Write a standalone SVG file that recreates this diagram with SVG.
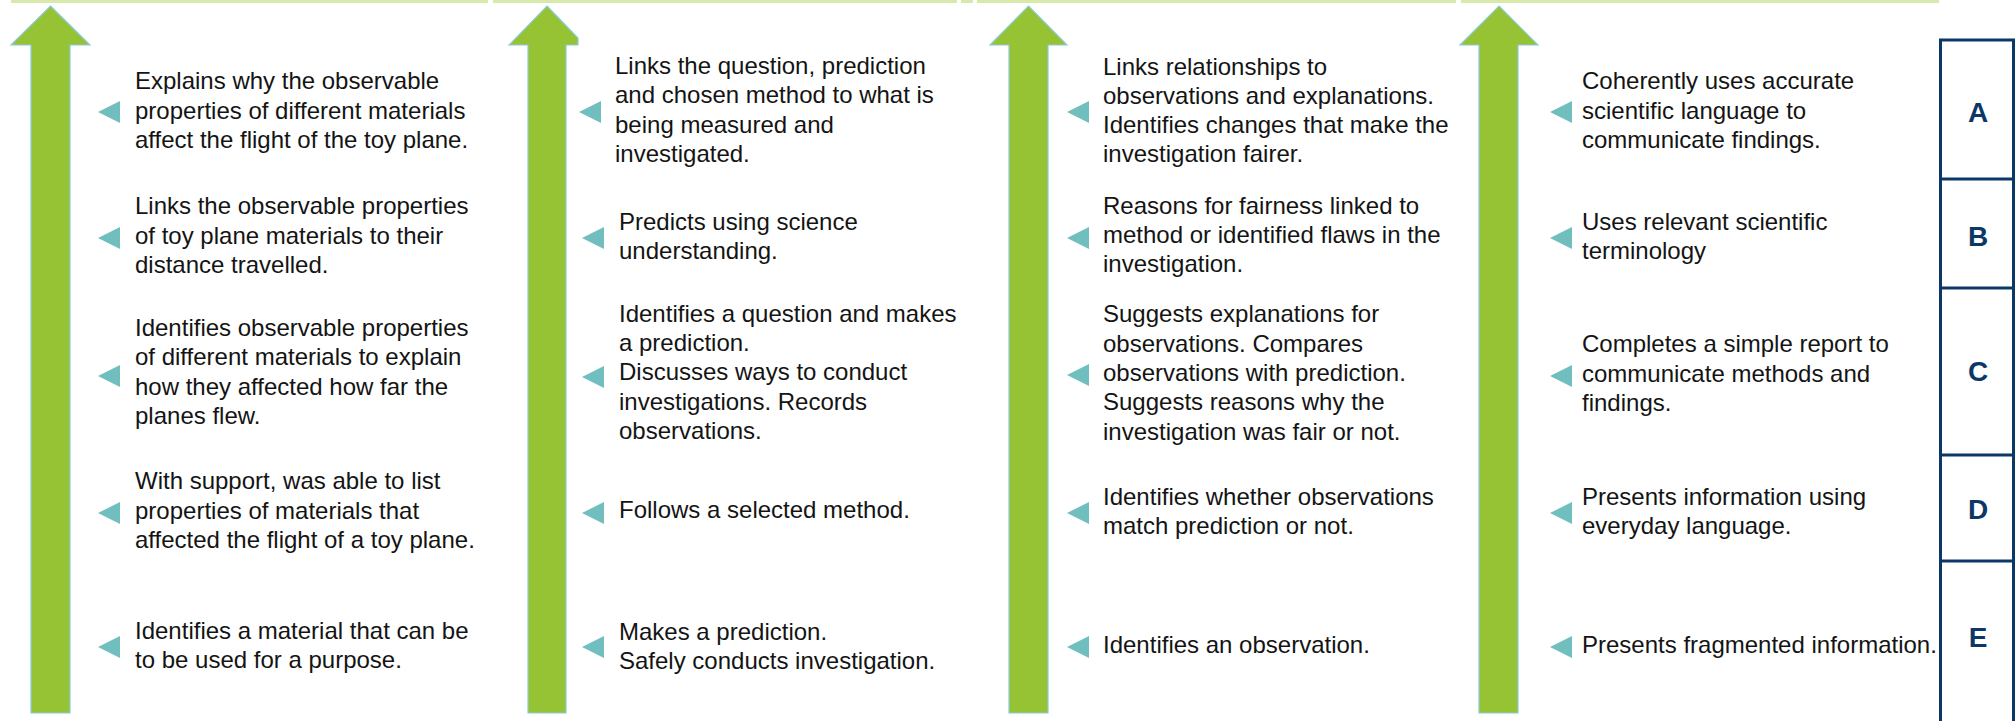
<svg xmlns="http://www.w3.org/2000/svg" width="2015" height="721" viewBox="0 0 2015 721">
<style>
.bar{fill:#d8eaa9}
.arrow{fill:#96c333;stroke:#8ccbd8;stroke-width:1.2}
.tri{fill:#70bebe}
.t{font-family:"Liberation Sans",Arial,sans-serif;font-size:24px;fill:#141414}
.g{font-family:"Liberation Sans",Arial,sans-serif;font-size:28px;font-weight:bold;fill:#0c3868;text-anchor:middle}
.box{fill:none;stroke:#0c3868;stroke-width:3}
</style>
<rect width="2015" height="721" fill="#ffffff"/>
<g id="top-bars">
<rect class="bar" x="11" y="0" width="477" height="3"/>
<rect class="bar" x="493" y="0" width="464" height="3"/>
<rect class="bar" x="961" y="0" width="12" height="3"/>
<rect class="bar" x="977" y="0" width="479" height="3"/>
<rect class="bar" x="1461" y="0" width="478" height="3"/>
</g>
<g id="connectors">
<polygon id="arrow1" class="arrow" points="50.5,6 90,45 70,45 70,713 31,713 31,45 11,45"/>
<polygon id="arrow2" class="arrow" points="547,6 578,38 578,45 566,45 566,713 528,713 528,45 509,45"/>
<polygon id="arrow3" class="arrow" points="1028.5,6 1067,45 1048,45 1048,713 1009,713 1009,45 990,45"/>
<polygon id="arrow4" class="arrow" points="1499,6 1538,45 1518,45 1518,713 1479,713 1479,45 1460,45"/>
</g>
<g id="col1">
<g id="c1-a"><polygon class="tri" points="98,112 120,101 120,123"/><text class="t"><tspan x="135" y="89.3">Explains why the observable</tspan><tspan x="135" y="118.6">properties of different materials</tspan><tspan x="135" y="147.9">affect the flight of the toy plane.</tspan></text></g>
<g id="c1-b"><polygon class="tri" points="98,238 120,227 120,249"/><text class="t"><tspan x="135" y="214.3">Links the observable properties</tspan><tspan x="135" y="243.6">of toy plane materials to their</tspan><tspan x="135" y="272.9">distance travelled.</tspan></text></g>
<g id="c1-c"><polygon class="tri" points="98,376 120,365 120,387"/><text class="t"><tspan x="135" y="335.95">Identifies observable properties</tspan><tspan x="135" y="365.25">of different materials to explain</tspan><tspan x="135" y="394.55">how they affected how far the</tspan><tspan x="135" y="423.85">planes flew.</tspan></text></g>
<g id="c1-d"><polygon class="tri" points="98,513 120,502 120,524"/><text class="t"><tspan x="135" y="489.3">With support, was able to list</tspan><tspan x="135" y="518.6">properties of materials that</tspan><tspan x="135" y="547.9">affected the flight of a toy plane.</tspan></text></g>
<g id="c1-e"><polygon class="tri" points="98,647 120,636 120,658"/><text class="t"><tspan x="135" y="638.65">Identifies a material that can be</tspan><tspan x="135" y="667.95">to be used for a purpose.</tspan></text></g>
</g>
<g id="col2">
<g id="c2-a"><polygon class="tri" points="579,112 601,101 601,123"/><text class="t"><tspan x="615" y="73.95">Links the question, prediction</tspan><tspan x="615" y="103.25">and chosen method to what is</tspan><tspan x="615" y="132.55">being measured and</tspan><tspan x="615" y="161.85">investigated.</tspan></text></g>
<g id="c2-b"><polygon class="tri" points="582,238 604,227 604,249"/><text class="t"><tspan x="619" y="229.65">Predicts using science</tspan><tspan x="619" y="258.95">understanding.</tspan></text></g>
<g id="c2-c"><polygon class="tri" points="582,377 604,366 604,388"/><text class="t"><tspan x="619" y="321.6">Identifies a question and makes</tspan><tspan x="619" y="350.9">a prediction.</tspan><tspan x="619" y="380.2">Discusses ways to conduct</tspan><tspan x="619" y="409.5">investigations. Records</tspan><tspan x="619" y="438.8">observations.</tspan></text></g>
<g id="c2-d"><polygon class="tri" points="582,513 604,502 604,524"/><text class="t"><tspan x="619" y="518">Follows a selected method.</tspan></text></g>
<g id="c2-e"><polygon class="tri" points="582,647 604,636 604,658"/><text class="t"><tspan x="619" y="639.65">Makes a prediction.</tspan><tspan x="619" y="668.95">Safely conducts investigation.</tspan></text></g>
</g>
<g id="col3">
<g id="c3-a"><polygon class="tri" points="1067,112 1089,101 1089,123"/><text class="t"><tspan x="1103" y="74.55">Links relationships to</tspan><tspan x="1103" y="103.85">observations and explanations.</tspan><tspan x="1103" y="133.15">Identifies changes that make the</tspan><tspan x="1103" y="162.45">investigation fairer.</tspan></text></g>
<g id="c3-b"><polygon class="tri" points="1067,238 1089,227 1089,249"/><text class="t"><tspan x="1103" y="213.7">Reasons for fairness linked to</tspan><tspan x="1103" y="243">method or identified flaws in the</tspan><tspan x="1103" y="272.3">investigation.</tspan></text></g>
<g id="c3-c"><polygon class="tri" points="1067,375 1089,364 1089,386"/><text class="t"><tspan x="1103" y="322.4">Suggests explanations for</tspan><tspan x="1103" y="351.7">observations. Compares</tspan><tspan x="1103" y="381">observations with prediction.</tspan><tspan x="1103" y="410.3">Suggests reasons why the</tspan><tspan x="1103" y="439.6">investigation was fair or not.</tspan></text></g>
<g id="c3-d"><polygon class="tri" points="1067,513 1089,502 1089,524"/><text class="t"><tspan x="1103" y="504.65">Identifies whether observations</tspan><tspan x="1103" y="533.95">match prediction or not.</tspan></text></g>
<g id="c3-e"><polygon class="tri" points="1067,647 1089,636 1089,658"/><text class="t"><tspan x="1103" y="653">Identifies an observation.</tspan></text></g>
</g>
<g id="col4">
<g id="c4-a"><polygon class="tri" points="1550,112 1572,101 1572,123"/><text class="t"><tspan x="1582" y="89.3">Coherently uses accurate</tspan><tspan x="1582" y="118.6">scientific language to</tspan><tspan x="1582" y="147.9">communicate findings.</tspan></text></g>
<g id="c4-b"><polygon class="tri" points="1550,238 1572,227 1572,249"/><text class="t"><tspan x="1582" y="229.65">Uses relevant scientific</tspan><tspan x="1582" y="258.95">terminology</tspan></text></g>
<g id="c4-c"><polygon class="tri" points="1550,376 1572,365 1572,387"/><text class="t"><tspan x="1582" y="352.3">Completes a simple report to</tspan><tspan x="1582" y="381.6">communicate methods and</tspan><tspan x="1582" y="410.9">findings.</tspan></text></g>
<g id="c4-d"><polygon class="tri" points="1550,513 1572,502 1572,524"/><text class="t"><tspan x="1582" y="504.65">Presents information using</tspan><tspan x="1582" y="533.95">everyday language.</tspan></text></g>
<g id="c4-e"><polygon class="tri" points="1550,647 1572,636 1572,658"/><text class="t"><tspan x="1582" y="653">Presents fragmented information.</tspan></text></g>
</g>
<g id="grades">
<rect class="box" x="1940.5" y="40" width="73" height="700"/>
<line class="box" x1="1940" y1="179" x2="2015" y2="179"/>
<line class="box" x1="1940" y1="288" x2="2015" y2="288"/>
<line class="box" x1="1940" y1="455" x2="2015" y2="455"/>
<line class="box" x1="1940" y1="561" x2="2015" y2="561"/>
<g id="grade-a"><text class="g" x="1978" y="122">A</text></g>
<g id="grade-b"><text class="g" x="1978" y="246">B</text></g>
<g id="grade-c"><text class="g" x="1978" y="381">C</text></g>
<g id="grade-d"><text class="g" x="1978" y="519">D</text></g>
<g id="grade-e"><text class="g" x="1978" y="647">E</text></g>
</g>
</svg>
